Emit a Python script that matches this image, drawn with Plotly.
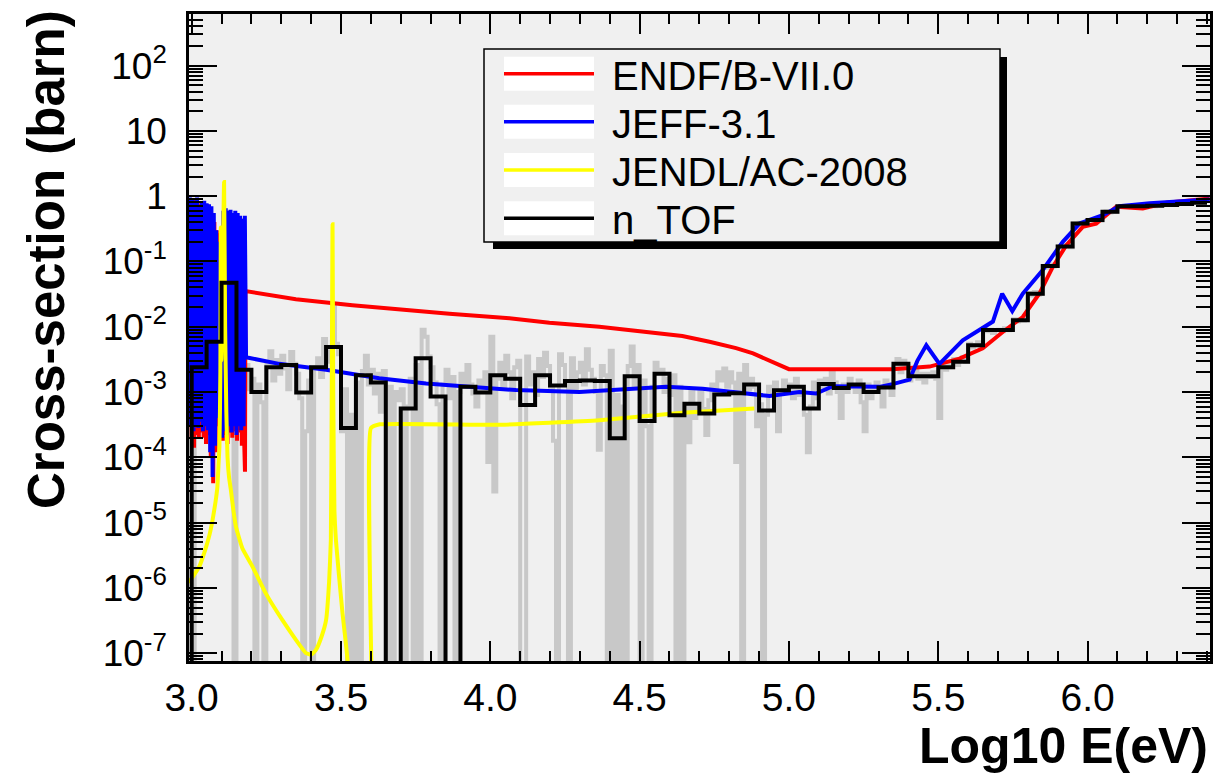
import math
import plotly.graph_objects as go

# ---------------------------------------------------------------------------
# n_TOF capture data, fine binning (grey): 0.01 wide bins in log10(E/eV)
# starting at 3.0; 0 marks an empty bin
# ---------------------------------------------------------------------------
fine_start = 3.0
fine_width = 0.01
fine_vals = [
    # 3.0
    0, 2.6e-3, 1.4e-3, 3.2e-3, 2.1e-3, 4.5e-3, 6.5e-3, 7.5e-3, 3.5e-3, 9.0e-3,
    # 3.1
    2.5e-2, 8.0e-2, 5.5e-2, 3.0e-2, 0, 5.0e-2, 3.5e-3, 1.4e-3, 2.6e-3, 1.1e-3,
    # 3.2
    1.6e-3, 0, 1.3e-3, 7.0e-4, 0, 2.6e-3, 4.2e-3, 1.5e-3, 3.1e-3, 1.9e-3,
    # 3.3
    3.6e-3, 2.3e-3, 1.1e-3, 4.1e-3, 2.7e-3, 1.9e-3, 8.0e-4, 0, 2.5e-4, 1.5e-3,
    # 3.4
    0, 2.4e-3, 3.3e-3, 1.7e-3, 6.5e-3, 4.2e-3, 2.9e-3, 2.0e-2, 5.5e-3, 3.8e-3,
    # 3.5
    2.5e-4, 1.1e-3, 0, 4.5e-4, 0, 1.4e-3, 0, 2.1e-3, 3.6e-3, 1.3e-3,
    # 3.6
    2.2e-3, 9.5e-4, 1.9e-3, 5.0e-4, 2.1e-3, 0, 1.2e-3, 0, 1.0e-3, 7.5e-4,
    # 3.7
    1.1e-3, 0, 6.0e-4, 1.6e-3, 0, 2.6e-3, 0, 9.0e-3, 7.0e-3, 3.5e-3,
    # 3.8
    2.4e-3, 1.4e-3, 6.5e-4, 0, 1.3e-3, 2.2e-3, 8.0e-4, 1.7e-3, 0, 1.0e-3,
    # 3.9
    1.9e-3, 1.2e-3, 2.6e-3, 1.3e-3, 9.5e-4, 6.0e-4, 1.5e-3, 1.1e-3, 2.0e-3, 8.5e-5,
    # 4.0
    7.0e-3, 3.0e-5, 1.6e-3, 2.8e-3, 1.2e-3, 3.6e-3, 2.0e-3, 8.0e-4, 2.4e-3, 3.0e-3,
    # 4.1
    0, 0, 3.5e-3, 1.3e-3, 2.0e-3, 9.0e-4, 3.2e-3, 1.7e-3, 4.0e-3, 2.5e-3,
    # 4.2
    1.2e-3, 1.8e-4, 0, 3.8e-3, 2.6e-3, 1.4e-3, 0, 3.3e-3, 1.1e-3, 2.0e-3,
    # 4.3
    2.8e-3, 1.3e-3, 4.5e-3, 2.2e-3, 1.6e-3, 1.0e-3, 1.3e-4, 2.5e-3, 1.8e-3, 0,
    # 4.4
    4.3e-3, 0, 9.0e-4, 0, 6.0e-4, 0, 2.5e-3, 5.0e-3, 1.2e-3, 2.6e-3,
    # 4.5
    0, 1.5e-3, 3.0e-4, 0, 1.2e-3, 2.8e-3, 2.0e-3, 2.2e-3, 1.0e-3, 1.6e-3,
    # 4.6
    9.0e-4, 1.8e-3, 0, 1.2e-3, 0, 6.5e-4, 1.7e-4, 1.1e-3, 4.0e-4, 6.0e-4,
    # 4.7
    1.0e-3, 5.5e-4, 2.2e-4, 7.5e-4, 1.3e-3, 1.0e-3, 2.0e-3, 1.5e-3, 2.3e-3, 1.2e-3,
    # 4.8
    2.0e-3, 1.4e-3, 8.5e-5, 1.9e-3, 0, 2.6e-3, 1.1e-3, 1.6e-3, 1.2e-3, 3.0e-4,
    # 4.9
    6.5e-4, 0, 4.5e-4, 1.2e-3, 9.0e-4, 1.4e-3, 2.5e-4, 1.0e-3, 1.5e-3, 1.1e-3,
    # 5.0
    1.3e-3, 8.0e-4, 1.6e-3, 9.0e-4, 1.1e-3, 4.5e-4, 1.2e-4, 6.0e-4, 1.4e-3, 8.0e-4,
    # 5.1
    1.5e-3, 1.2e-3, 1.6e-3, 9.5e-4, 2.0e-3, 1.4e-3, 1.0e-3, 4.0e-4, 1.3e-3, 1.0e-3,
    # 5.2
    1.6e-3, 1.2e-3, 1.0e-3, 1.5e-3, 7.0e-4, 2.5e-4, 1.3e-3, 8.0e-4, 1.1e-3, 1.4e-3,
    # 5.3
    1.2e-3, 6.0e-4, 1.5e-3, 1.3e-3, 9.0e-4, 2.4e-3, 3.2e-3, 2.0e-3, 3.0e-3, 2.5e-3,
    # 5.4
    1.5e-3, 1.8e-3, 2.2e-3, 1.6e-3, 1.9e-3, 1.4e-3, 1.9e-3, 1.7e-3, 2.0e-3, 1.6e-3,
    # 5.5
    4.0e-4, 2.6e-3, 2.2e-3, 2.8e-3, 2.4e-3, 3.2e-3, 2.6e-3, 3.0e-3, 3.4e-3, 2.9e-3,
    # 5.6
    5.5e-3, 4.8e-3, 5.2e-3, 5.8e-3, 5.0e-3, 9.5e-3, 8.5e-3, 9.0e-3, 8.0e-3, 8.8e-3,
    # 5.7
    9.0e-3, 8.5e-3, 9.5e-3, 8.8e-3, 9.2e-3, 1.3e-2, 1.2e-2, 1.3e-2, 1.25e-2, 1.3e-2,
    # 5.8
    3.3e-2, 3.0e-2, 3.4e-2, 3.1e-2, 3.2e-2, 8.5e-2, 8.0e-2, 9.0e-2, 8.4e-2, 8.7e-2,
    # 5.9
    0.17, 0.16, 0.18, 0.17, 0.165, 0.38, 0.37, 0.39, 0.38, 0.37,
    # 6.0
    0.43, 0.42, 0.44, 0.43, 0.42, 0.57, 0.58, 0.56, 0.58, 0.57,
    # 6.1
    0.69, 0.70, 0.71, 0.70, 0.69, 0.71, 0.70, 0.72, 0.70, 0.71,
    # 6.2
    0.71, 0.72, 0.70, 0.73, 0.72, 0.74, 0.73, 0.75, 0.74, 0.76,
    # 6.3
    0.76, 0.77, 0.78, 0.77, 0.78, 0.79, 0.80, 0.78, 0.79, 0.80,
]

# ---------------------------------------------------------------------------
# n_TOF capture data, coarse binning (black): 0.05 wide bins from 3.0
# ---------------------------------------------------------------------------
coarse_start = 3.0
coarse_width = 0.05
ntof_vals = [
    2.4e-3, 5.9e-3, 4.7e-2, 2.2e-3, 1.0e-3, 2.4e-3, 2.6e-3, 9.8e-4,   # 3.00-3.40
    2.4e-3, 4.9e-3, 2.8e-4, 1.8e-3, 1.4e-3, 0, 5.6e-4, 3.3e-3,        # 3.40-3.80
    8.5e-4, 0, 1.2e-3, 9.8e-4, 1.8e-3, 1.6e-3, 6.3e-4, 1.8e-3,        # 3.80-4.20
    1.26e-3, 1.48e-3, 1.5e-3, 1.48e-3, 1.95e-4, 1.74e-3, 3.6e-4, 1.9e-3,  # 4.20-4.60
    4.4e-4, 6.6e-4, 4.7e-4, 9.2e-4, 9.6e-4, 1.3e-3, 5.2e-4, 1.06e-3,  # 4.60-5.00
    1.2e-3, 5.6e-4, 1.33e-3, 1.15e-3, 1.3e-3, 1.0e-3, 1.17e-3, 2.7e-3,  # 5.00-5.40
    1.74e-3, 1.74e-3, 2.4e-3, 2.9e-3, 5.2e-3, 8.9e-3, 8.9e-3, 1.26e-2,  # 5.40-5.80
    3.2e-2, 8.5e-2, 0.17, 0.38, 0.43, 0.575, 0.70, 0.70,              # 5.80-6.20
    0.71, 0.73, 0.76, 0.79,                                            # 6.20-6.40
]

# ---------------------------------------------------------------------------
# Evaluated libraries: x = log10(E/eV), y = cross-section (barn)
# ---------------------------------------------------------------------------
endf_x = [
    2.992, 2.996, 3.000, 3.004, 3.008, 3.012, 3.016, 3.020, 3.024, 3.028,
    3.032, 3.036, 3.040, 3.044, 3.048, 3.052, 3.056, 3.060, 3.064, 3.068,
    3.072, 3.076, 3.080, 3.084, 3.088, 3.092, 3.096, 3.100, 3.104, 3.108,
    3.112, 3.116, 3.120, 3.124, 3.128, 3.132, 3.136, 3.140, 3.144, 3.148,
    3.152, 3.156, 3.160, 3.164, 3.168, 3.172, 3.176, 3.1785,
    3.180, 3.349, 3.538, 3.762, 3.863, 4.064, 4.198, 4.365, 4.533, 4.643,
    4.734, 4.823, 4.880, 4.924, 4.965, 5.000, 5.347, 5.471, 5.571, 5.649,
    5.716, 5.783, 5.839, 5.884, 5.929, 5.984, 6.029, 6.096, 6.185, 6.264,
    6.409,
]
endf_y = [
    1.0e-3, 0.9, 2.0e-4, 0.85, 1.4e-4, 0.9, 2.2e-4, 0.8, 2.0e-4, 0.75,
    2.4e-4, 0.8, 2.0e-4, 0.7, 1.6e-4, 0.75, 2.2e-4, 0.6, 1.0e-4, 0.5,
    4.0e-5, 0.4, 1.2e-4, 0.3, 3.0e-4, 0.27, 2.5e-4, 0.22, 1.8e-4, 0.5,
    2.2e-4, 0.55, 1.6e-4, 0.5, 2.4e-4, 0.55, 2.0e-4, 0.5, 2.5e-4, 0.5,
    1.8e-4, 0.45, 2.4e-4, 0.45, 1.5e-4, 0.35, 1.6e-4, 6.0e-5,
    0.0351, 0.0263, 0.0214, 0.0170, 0.0158, 0.0135, 0.0115, 0.0100, 0.0083, 0.0072,
    0.0059, 0.0047, 0.0039, 0.0032, 0.0027, 0.00224, 0.00224, 0.00245, 0.00324, 0.00468,
    0.0083, 0.0141, 0.0324, 0.083, 0.178, 0.339, 0.38, 0.686, 0.646, 0.794,
    0.923,
]

jeff_x = [
    2.990, 2.994, 2.998, 3.002, 3.006, 3.010, 3.014, 3.018, 3.022, 3.026,
    3.030, 3.034, 3.038, 3.042, 3.046, 3.050, 3.054, 3.058, 3.062, 3.066,
    3.070, 3.074, 3.078, 3.082, 3.086, 3.090, 3.094, 3.098, 3.102, 3.106,
    3.110, 3.114, 3.118, 3.122, 3.126, 3.130, 3.134, 3.138, 3.142, 3.146,
    3.150, 3.154, 3.158, 3.162, 3.166, 3.170, 3.174, 3.178,
    3.182, 3.293, 3.450, 3.628, 3.785, 3.963, 4.086, 4.298, 4.589, 4.711,
    4.868, 4.935, 5.035, 5.091, 5.147, 5.303, 5.347, 5.404, 5.430, 5.460,
    5.504, 5.582, 5.683, 5.714, 5.748, 5.783, 5.850, 5.917, 5.973, 6.051,
    6.107, 6.208, 6.409,
]
jeff_y = [
    1.5e-3, 0.95, 3.0e-4, 0.9, 2.5e-4, 0.85, 3.0e-4, 0.95, 2.8e-4, 0.7,
    3.5e-4, 0.8, 2.5e-4, 0.85, 3.0e-4, 0.78, 2.6e-4, 0.75, 1.2e-4, 0.7,
    5.0e-5, 0.55, 1.5e-4, 0.3, 4.0e-4, 0.2, 3.0e-4, 0.25, 2.0e-4, 0.6,
    2.5e-4, 0.65, 2.2e-4, 0.6, 3.0e-4, 0.62, 2.4e-4, 0.55, 3.0e-4, 0.6,
    2.2e-4, 0.55, 3.0e-4, 0.5, 2.6e-4, 0.45, 3.0e-4, 0.5,
    0.0034, 0.0027, 0.0022, 0.00162, 0.00135, 0.00117, 0.00107, 0.00100, 0.0012, 0.00112,
    0.00093, 0.00087, 0.0010, 0.00095, 0.00123, 0.0012, 0.00132, 0.00155, 0.0030, 0.0052,
    0.0027, 0.0062, 0.012, 0.032, 0.0174, 0.032, 0.074, 0.20, 0.38, 0.51,
    0.70, 0.78, 0.89,
]

jendl_x = [
    2.990, 3.025, 3.045, 3.060, 3.070, 3.080, 3.086, 3.090, 3.093, 3.096,
    3.0975, 3.099, 3.1085, 3.112, 3.116, 3.120, 3.125, 3.131, 3.140, 3.148,
    3.170, 3.204, 3.249, 3.304, 3.349, 3.383, 3.400, 3.416, 3.435, 3.450,
    3.460, 3.466, 3.469, 3.4717, 3.474, 3.478, 3.483, 3.493, 3.505, 3.515,
    3.522, 3.530, 3.598, 3.600, 3.630, 4.030, 4.365, 4.643, 4.884,
]
jendl_y = [
    1.2e-6, 2.1e-6, 3.8e-6, 6.6e-6, 1.1e-5, 2.1e-5, 3.5e-5, 8.0e-5, 1.5e-4, 2.0e-3,
    0.33, 3.0e-3, 1.65, 1.0e-2, 5.0e-4, 1.0e-4, 5.0e-5, 3.2e-5, 1.5e-5, 8.7e-6,
    4.0e-6, 2.1e-6, 8.1e-7, 3.2e-7, 1.6e-7, 1.0e-7, 9.5e-8, 1.12e-7, 1.8e-7, 3.2e-7,
    1.2e-6, 5.4e-6, 1.0e-3, 0.37, 1.0e-3, 1.5e-5, 5.4e-6, 1.6e-6, 4.1e-7, 1.6e-7,
    7.5e-8, 0, 0, 2.8e-4, 3.2e-4, 3.15e-4, 3.7e-4, 4.8e-4, 5.6e-4,
]

legend_names = ["ENDF/B-VII.0", "JEFF-3.1", "JENDL/AC-2008", "n_TOF"]
legend_colors = ["#ff0000", "#0000ff", "#ffff00", "#000000"]

x_tick_vals = [3.0, 3.5, 4.0, 4.5, 5.0, 5.5, 6.0]
x_tick_text = ["3.0", "3.5", "4.0", "4.5", "5.0", "5.5", "6.0"]
y_tick_vals = [1e-7, 1e-6, 1e-5, 1e-4, 1e-3, 1e-2, 1e-1, 1, 10, 100]
y_tick_text = ["10<sup>-7</sup>", "10<sup>-6</sup>", "10<sup>-5</sup>", "10<sup>-4</sup>",
               "10<sup>-3</sup>", "10<sup>-2</sup>", "10<sup>-1</sup>", "1", "10",
               "10<sup>2</sup>"]

# ---------------------------------------------------------------------------
X_RANGE = [2.991, 6.41]
Y_RANGE = [-7.12, 2.79]          # log10 of the barn range
FLOOR = 1e-12                    # empty bins sit far below the visible range
FONT = "Liberation Sans, Arial, Helvetica, sans-serif"

W, H = 1218, 780
M_L, M_R, M_T, M_B = 189, 8, 14, 119
PW, PH = W - M_L - M_R, H - M_T - M_B


def px_x(px):
    """Horizontal pixel position -> paper fraction."""
    return (px - M_L) / PW


def px_y(py):
    """Vertical pixel position (from top) -> paper fraction."""
    return (H - M_B - py) / PH


def floor_zero(vals):
    return [v if v > 0 else FLOOR for v in vals]


def histogram_steps(start, width, vals):
    """Outline of a histogram as 'hv' steps, rising from the axis floor."""
    edges = [start + width * i for i in range(len(vals) + 1)]
    ys = floor_zero(vals)
    return [start] + edges, [FLOOR] + ys + [ys[-1]]


fig = go.Figure()

gx, gy = histogram_steps(fine_start, fine_width, fine_vals)
fig.add_trace(go.Scatter(x=gx, y=gy, mode="lines", line_shape="hv",
                         line=dict(color="#c8c8c8", width=4), hoverinfo="skip"))

fig.add_trace(go.Scatter(x=endf_x, y=endf_y, mode="lines", name=legend_names[0],
                         line=dict(color=legend_colors[0], width=4)))
fig.add_trace(go.Scatter(x=jeff_x, y=jeff_y, mode="lines", name=legend_names[1],
                         line=dict(color=legend_colors[1], width=4)))
fig.add_trace(go.Scatter(x=jendl_x, y=floor_zero(jendl_y), mode="lines",
                         name=legend_names[2], line_shape="spline",
                         line=dict(color=legend_colors[2], width=4, smoothing=0.4)))

bx, by = histogram_steps(coarse_start, coarse_width, ntof_vals)
fig.add_trace(go.Scatter(x=bx, y=by, mode="lines", line_shape="hv",
                         name=legend_names[3],
                         line=dict(color=legend_colors[3], width=4)))

# axis tick marks
x_minor = [round(3.0 + 0.1 * k, 1) for k in range(35)]
x_minor = [v for v in x_minor if v not in x_tick_vals]
y_minor = [m * 10.0 ** e for e in range(-8, 3) for m in range(2, 10)
           if Y_RANGE[0] < math.log10(m * 10.0 ** e) < Y_RANGE[1]]

fig.update_xaxes(
    range=X_RANGE, tickmode="array", tickvals=x_tick_vals, ticktext=x_tick_text,
    ticks="inside", ticklen=20, tickwidth=1.5, tickcolor="black",
    minor=dict(tickmode="array", tickvals=x_minor, ticks="inside", ticklen=10,
               tickwidth=1.5, tickcolor="black"),
    showline=True, linewidth=2.5, linecolor="black", mirror="allticks",
    showgrid=False, zeroline=False,
    tickfont=dict(family=FONT, size=39, color="black"),
)
fig.update_yaxes(
    type="log", range=Y_RANGE, tickmode="array", tickvals=y_tick_vals,
    ticktext=y_tick_text,
    ticks="inside", ticklen=28, tickwidth=1.5, tickcolor="black",
    minor=dict(tickmode="array", tickvals=y_minor, ticks="inside", ticklen=14,
               tickwidth=1.5, tickcolor="black"),
    showline=True, linewidth=2.5, linecolor="black", mirror="allticks",
    showgrid=False, zeroline=False, ticklabelstandoff=12,
    tickfont=dict(family=FONT, size=37, color="black"),
)

# legend box with drop shadow, drawn by hand in ROOT style
shapes = [
    dict(type="rect", xref="paper", yref="paper", layer="above",
         x0=px_x(493), x1=px_x(1007), y0=px_y(249), y1=px_y(57),
         fillcolor="black", line=dict(width=0)),
    dict(type="rect", xref="paper", yref="paper", layer="above",
         x0=px_x(484), x1=px_x(1000), y0=px_y(242), y1=px_y(49),
         fillcolor="#f0f0f0", line=dict(color="black", width=1.5)),
]
annotations = []
row_y = [73.7, 121.8, 170.0, 218.2]
for name, color, yy in zip(legend_names, legend_colors, row_y):
    shapes.append(dict(type="rect", xref="paper", yref="paper", layer="above",
                       x0=px_x(504), x1=px_x(594), y0=px_y(yy + 17), y1=px_y(yy - 17),
                       fillcolor="white", line=dict(width=0)))
    shapes.append(dict(type="line", xref="paper", yref="paper", layer="above",
                       x0=px_x(504), x1=px_x(594), y0=px_y(yy), y1=px_y(yy),
                       line=dict(color=color, width=3.5)))
    annotations.append(dict(text=name, xref="paper", yref="paper",
                            x=px_x(610), y=px_y(yy + 2), xanchor="left",
                            yanchor="middle", showarrow=False,
                            font=dict(family=FONT, size=40, color="black")))

annotations.append(dict(text="<b>Cross-section (barn)</b>", xref="paper", yref="paper",
                        x=px_x(46), y=px_y(260), xanchor="center", yanchor="middle",
                        textangle=-90, showarrow=False,
                        font=dict(family=FONT, size=51, color="black")))
annotations.append(dict(text="<b>Log10 E(eV)</b>", xref="paper", yref="paper",
                        x=1.0, y=px_y(746), xanchor="right", yanchor="middle",
                        showarrow=False,
                        font=dict(family=FONT, size=50, color="black")))

fig.update_layout(
    width=W, height=H,
    margin=dict(l=M_L, r=M_R, t=M_T, b=M_B, autoexpand=False),
    paper_bgcolor="white", plot_bgcolor="#f0f0f0",
    showlegend=False, shapes=shapes, annotations=annotations,
    font=dict(family=FONT, color="black"),
)

fig.write_html("out.html")
